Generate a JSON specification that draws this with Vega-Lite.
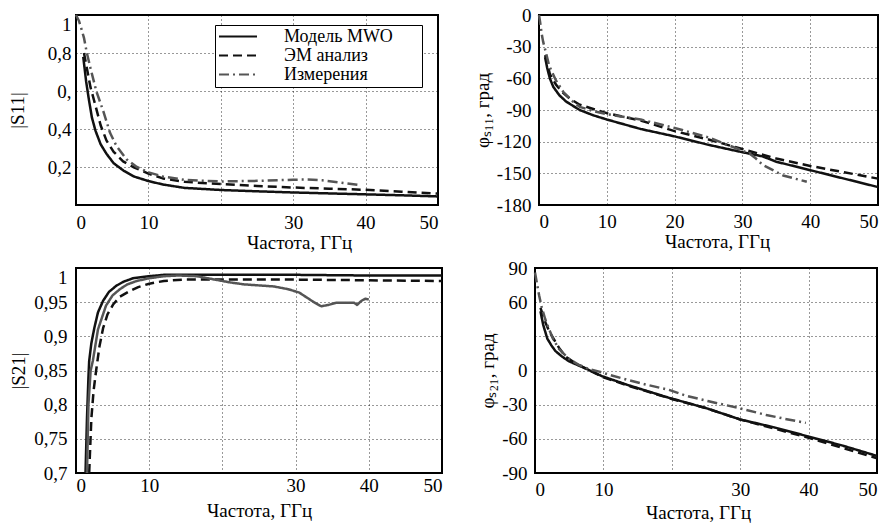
{
  "$schema": "https://vega.github.io/schema/vega-lite/v6.json",
  "padding": {"left": 7, "top": 5, "right": 5, "bottom": 5},
  "background": "#ffffff",
  "config": {
    "font": "Liberation Serif",
    "view": {"stroke": "#000000", "strokeWidth": 2},
    "style": {"guide-label": {"font": "Liberation Serif", "fontSize": 19, "fill": "#000000"}, "guide-title": {"font": "Liberation Serif", "fontSize": 19, "fontWeight": "normal", "fill": "#000000"}},
    "axis": {
      "domain": false,
      "ticks": false,
      "grid": true,
      "gridColor": "#000000",
      "gridDash": [1, 3],
      "gridWidth": 1,
      "gridOpacity": 0.8,
      "labelFont": "Liberation Serif",
      "labelFontSize": 19,
      "labelColor": "#000000",
      "titleFont": "Liberation Serif",
      "titleFontSize": 19,
      "titleFontWeight": "normal",
      "titleColor": "#000000"
    },
    "legend": {"labelFont": "Liberation Serif", "labelFontSize": 18, "labelColor": "#000000"},
    "line": {"strokeJoin": "round", "strokeCap": "butt"}
  },
  "datasets": {
    "s11mag": [
      {"f": 1.0, "v": 0.78, "series": "Модель MWO"},
      {"f": 1.4, "v": 0.65, "series": "Модель MWO"},
      {"f": 1.8, "v": 0.55, "series": "Модель MWO"},
      {"f": 2.2, "v": 0.46, "series": "Модель MWO"},
      {"f": 2.7, "v": 0.39, "series": "Модель MWO"},
      {"f": 3.4, "v": 0.32, "series": "Модель MWO"},
      {"f": 4.2, "v": 0.27, "series": "Модель MWO"},
      {"f": 5.2, "v": 0.22, "series": "Модель MWO"},
      {"f": 6.6, "v": 0.18, "series": "Модель MWO"},
      {"f": 8.0, "v": 0.15, "series": "Модель MWO"},
      {"f": 10, "v": 0.126, "series": "Модель MWO"},
      {"f": 12, "v": 0.108, "series": "Модель MWO"},
      {"f": 15, "v": 0.09, "series": "Модель MWO"},
      {"f": 20, "v": 0.079, "series": "Модель MWO"},
      {"f": 25, "v": 0.072, "series": "Модель MWO"},
      {"f": 30, "v": 0.066, "series": "Модель MWO"},
      {"f": 35, "v": 0.061, "series": "Модель MWO"},
      {"f": 40, "v": 0.056, "series": "Модель MWO"},
      {"f": 45, "v": 0.051, "series": "Модель MWO"},
      {"f": 50, "v": 0.045, "series": "Модель MWO"},
      {"f": 1.1, "v": 0.8, "series": "ЭМ анализ"},
      {"f": 1.6, "v": 0.7, "series": "ЭМ анализ"},
      {"f": 2.0, "v": 0.62, "series": "ЭМ анализ"},
      {"f": 2.5, "v": 0.55, "series": "ЭМ анализ"},
      {"f": 3.4, "v": 0.42, "series": "ЭМ анализ"},
      {"f": 4.2, "v": 0.34, "series": "ЭМ анализ"},
      {"f": 5.2, "v": 0.28, "series": "ЭМ анализ"},
      {"f": 6.5, "v": 0.23, "series": "ЭМ анализ"},
      {"f": 7.9, "v": 0.2, "series": "ЭМ анализ"},
      {"f": 10, "v": 0.165, "series": "ЭМ анализ"},
      {"f": 12, "v": 0.14, "series": "ЭМ анализ"},
      {"f": 15, "v": 0.122, "series": "ЭМ анализ"},
      {"f": 20, "v": 0.11, "series": "ЭМ анализ"},
      {"f": 25, "v": 0.1, "series": "ЭМ анализ"},
      {"f": 30, "v": 0.092, "series": "ЭМ анализ"},
      {"f": 35, "v": 0.086, "series": "ЭМ анализ"},
      {"f": 40, "v": 0.08, "series": "ЭМ анализ"},
      {"f": 45, "v": 0.07, "series": "ЭМ анализ"},
      {"f": 50, "v": 0.06, "series": "ЭМ анализ"},
      {"f": 0, "v": 1.0, "series": "Измерения"},
      {"f": 0.4, "v": 0.97, "series": "Измерения"},
      {"f": 0.8, "v": 0.92, "series": "Измерения"},
      {"f": 1.1, "v": 0.88, "series": "Измерения"},
      {"f": 1.5, "v": 0.8, "series": "Измерения"},
      {"f": 2.0, "v": 0.72, "series": "Измерения"},
      {"f": 2.8, "v": 0.6, "series": "Измерения"},
      {"f": 3.8, "v": 0.49, "series": "Измерения"},
      {"f": 4.7, "v": 0.38, "series": "Измерения"},
      {"f": 5.6, "v": 0.31, "series": "Измерения"},
      {"f": 7.0, "v": 0.24, "series": "Измерения"},
      {"f": 8.4, "v": 0.2, "series": "Измерения"},
      {"f": 10, "v": 0.172, "series": "Измерения"},
      {"f": 12, "v": 0.15, "series": "Измерения"},
      {"f": 15, "v": 0.132, "series": "Измерения"},
      {"f": 20, "v": 0.124, "series": "Измерения"},
      {"f": 25, "v": 0.127, "series": "Измерения"},
      {"f": 30, "v": 0.133, "series": "Измерения"},
      {"f": 32, "v": 0.134, "series": "Измерения"},
      {"f": 34, "v": 0.13, "series": "Измерения"},
      {"f": 37, "v": 0.116, "series": "Измерения"},
      {"f": 39, "v": 0.106, "series": "Измерения"}
    ],
    "s11ph": [
      {"f": 0.9, "v": -40, "series": "Модель MWO"},
      {"f": 1.2, "v": -50, "series": "Модель MWO"},
      {"f": 1.6, "v": -60, "series": "Модель MWO"},
      {"f": 2.1, "v": -68, "series": "Модель MWO"},
      {"f": 3.0, "v": -76, "series": "Модель MWO"},
      {"f": 4.0, "v": -82, "series": "Модель MWO"},
      {"f": 6.0, "v": -90, "series": "Модель MWO"},
      {"f": 8.0, "v": -95, "series": "Модель MWO"},
      {"f": 10, "v": -99, "series": "Модель MWO"},
      {"f": 15, "v": -108, "series": "Модель MWO"},
      {"f": 20, "v": -115, "series": "Модель MWO"},
      {"f": 25, "v": -123, "series": "Модель MWO"},
      {"f": 30, "v": -130, "series": "Модель MWO"},
      {"f": 33, "v": -134, "series": "Модель MWO"},
      {"f": 35, "v": -139, "series": "Модель MWO"},
      {"f": 40, "v": -147, "series": "Модель MWO"},
      {"f": 45, "v": -155, "series": "Модель MWO"},
      {"f": 50, "v": -163, "series": "Модель MWO"},
      {"f": 0.9, "v": -38, "series": "ЭМ анализ"},
      {"f": 1.2, "v": -45, "series": "ЭМ анализ"},
      {"f": 1.6, "v": -56, "series": "ЭМ анализ"},
      {"f": 2.5, "v": -66, "series": "ЭМ анализ"},
      {"f": 3.6, "v": -74, "series": "ЭМ анализ"},
      {"f": 4.5, "v": -79, "series": "ЭМ анализ"},
      {"f": 6.0, "v": -85, "series": "ЭМ анализ"},
      {"f": 8.0, "v": -89, "series": "ЭМ анализ"},
      {"f": 10, "v": -93, "series": "ЭМ анализ"},
      {"f": 15, "v": -100, "series": "ЭМ анализ"},
      {"f": 20, "v": -110, "series": "ЭМ анализ"},
      {"f": 25, "v": -118, "series": "ЭМ анализ"},
      {"f": 30, "v": -127, "series": "ЭМ анализ"},
      {"f": 35, "v": -136, "series": "ЭМ анализ"},
      {"f": 40, "v": -143, "series": "ЭМ анализ"},
      {"f": 45, "v": -149, "series": "ЭМ анализ"},
      {"f": 50, "v": -155, "series": "ЭМ анализ"},
      {"f": 0, "v": 0, "series": "Измерения"},
      {"f": 0.15, "v": -6, "series": "Измерения"},
      {"f": 0.4, "v": -18, "series": "Измерения"},
      {"f": 0.6, "v": -25, "series": "Измерения"},
      {"f": 1.0, "v": -35, "series": "Измерения"},
      {"f": 1.5, "v": -48, "series": "Измерения"},
      {"f": 2.5, "v": -62, "series": "Измерения"},
      {"f": 3.6, "v": -73, "series": "Измерения"},
      {"f": 5.0, "v": -82, "series": "Измерения"},
      {"f": 6.0, "v": -87, "series": "Измерения"},
      {"f": 8.0, "v": -91, "series": "Измерения"},
      {"f": 10, "v": -94, "series": "Измерения"},
      {"f": 15, "v": -99, "series": "Измерения"},
      {"f": 20, "v": -107, "series": "Измерения"},
      {"f": 25, "v": -116, "series": "Измерения"},
      {"f": 29, "v": -126, "series": "Измерения"},
      {"f": 31, "v": -131, "series": "Измерения"},
      {"f": 32, "v": -136, "series": "Измерения"},
      {"f": 33, "v": -142, "series": "Измерения"},
      {"f": 36, "v": -152, "series": "Измерения"},
      {"f": 39.5, "v": -158, "series": "Измерения"}
    ],
    "s21mag": [
      {"f": 1.3, "v": 0.7, "series": "Модель MWO"},
      {"f": 1.5, "v": 0.78, "series": "Модель MWO"},
      {"f": 1.7, "v": 0.84, "series": "Модель MWO"},
      {"f": 1.8, "v": 0.864, "series": "Модель MWO"},
      {"f": 2.1, "v": 0.89, "series": "Модель MWO"},
      {"f": 2.5, "v": 0.912, "series": "Модель MWO"},
      {"f": 3.0, "v": 0.935, "series": "Модель MWO"},
      {"f": 3.7, "v": 0.952, "series": "Модель MWO"},
      {"f": 4.5, "v": 0.965, "series": "Модель MWO"},
      {"f": 5.5, "v": 0.974, "series": "Модель MWO"},
      {"f": 6.5, "v": 0.98, "series": "Модель MWO"},
      {"f": 7.8, "v": 0.985, "series": "Модель MWO"},
      {"f": 10, "v": 0.988, "series": "Модель MWO"},
      {"f": 12, "v": 0.99, "series": "Модель MWO"},
      {"f": 20, "v": 0.99, "series": "Модель MWO"},
      {"f": 30, "v": 0.99, "series": "Модель MWO"},
      {"f": 40, "v": 0.989, "series": "Модель MWO"},
      {"f": 50, "v": 0.989, "series": "Модель MWO"},
      {"f": 1.8, "v": 0.7, "series": "ЭМ анализ"},
      {"f": 2.1, "v": 0.78, "series": "ЭМ анализ"},
      {"f": 2.4, "v": 0.82, "series": "ЭМ анализ"},
      {"f": 2.75, "v": 0.85, "series": "ЭМ анализ"},
      {"f": 3.2, "v": 0.885, "series": "ЭМ анализ"},
      {"f": 3.7, "v": 0.912, "series": "ЭМ анализ"},
      {"f": 4.3, "v": 0.932, "series": "ЭМ анализ"},
      {"f": 5.1, "v": 0.947, "series": "ЭМ анализ"},
      {"f": 6.0, "v": 0.958, "series": "ЭМ анализ"},
      {"f": 7.3, "v": 0.966, "series": "ЭМ анализ"},
      {"f": 8.5, "v": 0.972, "series": "ЭМ анализ"},
      {"f": 10, "v": 0.977, "series": "ЭМ анализ"},
      {"f": 12, "v": 0.981, "series": "ЭМ анализ"},
      {"f": 14.7, "v": 0.983, "series": "ЭМ анализ"},
      {"f": 20, "v": 0.983, "series": "ЭМ анализ"},
      {"f": 30, "v": 0.983, "series": "ЭМ анализ"},
      {"f": 40, "v": 0.982, "series": "ЭМ анализ"},
      {"f": 50, "v": 0.981, "series": "ЭМ анализ"},
      {"f": 1.5, "v": 0.7, "series": "Измерения"},
      {"f": 1.7, "v": 0.8, "series": "Измерения"},
      {"f": 2.0, "v": 0.85, "series": "Измерения"},
      {"f": 2.3, "v": 0.864, "series": "Измерения"},
      {"f": 3.0, "v": 0.91, "series": "Измерения"},
      {"f": 4.1, "v": 0.945, "series": "Измерения"},
      {"f": 5.0, "v": 0.96, "series": "Измерения"},
      {"f": 6.0, "v": 0.969, "series": "Измерения"},
      {"f": 7.0, "v": 0.976, "series": "Измерения"},
      {"f": 8.3, "v": 0.981, "series": "Измерения"},
      {"f": 10, "v": 0.985, "series": "Измерения"},
      {"f": 12, "v": 0.988, "series": "Измерения"},
      {"f": 14, "v": 0.989, "series": "Измерения"},
      {"f": 16.5, "v": 0.988, "series": "Измерения"},
      {"f": 18, "v": 0.985, "series": "Измерения"},
      {"f": 21, "v": 0.979, "series": "Измерения"},
      {"f": 23, "v": 0.976, "series": "Измерения"},
      {"f": 25.7, "v": 0.974, "series": "Измерения"},
      {"f": 27, "v": 0.973, "series": "Измерения"},
      {"f": 29, "v": 0.969, "series": "Измерения"},
      {"f": 30.5, "v": 0.964, "series": "Измерения"},
      {"f": 31.5, "v": 0.957, "series": "Измерения"},
      {"f": 32.5, "v": 0.95, "series": "Измерения"},
      {"f": 33.5, "v": 0.944, "series": "Измерения"},
      {"f": 34.5, "v": 0.946, "series": "Измерения"},
      {"f": 35.5, "v": 0.949, "series": "Измерения"},
      {"f": 37, "v": 0.949, "series": "Измерения"},
      {"f": 38, "v": 0.949, "series": "Измерения"},
      {"f": 38.4, "v": 0.946, "series": "Измерения"},
      {"f": 39, "v": 0.952, "series": "Измерения"},
      {"f": 39.5, "v": 0.955, "series": "Измерения"},
      {"f": 40, "v": 0.954, "series": "Измерения"}
    ],
    "s21ph": [
      {"f": 0.8, "v": 52, "series": "Модель MWO"},
      {"f": 1.2, "v": 40, "series": "Модель MWO"},
      {"f": 1.8, "v": 28, "series": "Модель MWO"},
      {"f": 2.4, "v": 22, "series": "Модель MWO"},
      {"f": 3.0, "v": 17, "series": "Модель MWO"},
      {"f": 4.0, "v": 12, "series": "Модель MWO"},
      {"f": 5.0, "v": 8, "series": "Модель MWO"},
      {"f": 7.5, "v": 1.5, "series": "Модель MWO"},
      {"f": 9.8, "v": -5, "series": "Модель MWO"},
      {"f": 13.7, "v": -13, "series": "Модель MWO"},
      {"f": 19.6, "v": -24, "series": "Модель MWO"},
      {"f": 25, "v": -33, "series": "Модель MWO"},
      {"f": 30, "v": -43, "series": "Модель MWO"},
      {"f": 35, "v": -50, "series": "Модель MWO"},
      {"f": 40, "v": -58, "series": "Модель MWO"},
      {"f": 45, "v": -66, "series": "Модель MWO"},
      {"f": 50, "v": -75, "series": "Модель MWO"},
      {"f": 0.8, "v": 55, "series": "ЭМ анализ"},
      {"f": 1.2, "v": 48, "series": "ЭМ анализ"},
      {"f": 1.6, "v": 41, "series": "ЭМ анализ"},
      {"f": 2.2, "v": 33, "series": "ЭМ анализ"},
      {"f": 2.8, "v": 27, "series": "ЭМ анализ"},
      {"f": 3.5, "v": 20, "series": "ЭМ анализ"},
      {"f": 4.5, "v": 12, "series": "ЭМ анализ"},
      {"f": 6.0, "v": 6, "series": "ЭМ анализ"},
      {"f": 8.0, "v": 0, "series": "ЭМ анализ"},
      {"f": 10, "v": -6, "series": "ЭМ анализ"},
      {"f": 14, "v": -14, "series": "ЭМ анализ"},
      {"f": 20, "v": -25, "series": "ЭМ анализ"},
      {"f": 25, "v": -33, "series": "ЭМ анализ"},
      {"f": 30, "v": -43, "series": "ЭМ анализ"},
      {"f": 35, "v": -51, "series": "ЭМ анализ"},
      {"f": 40, "v": -59, "series": "ЭМ анализ"},
      {"f": 45, "v": -68, "series": "ЭМ анализ"},
      {"f": 50, "v": -77, "series": "ЭМ анализ"},
      {"f": 0, "v": 86, "series": "Измерения"},
      {"f": 0.3, "v": 76, "series": "Измерения"},
      {"f": 0.6, "v": 66, "series": "Измерения"},
      {"f": 1.0, "v": 55, "series": "Измерения"},
      {"f": 1.5, "v": 45, "series": "Измерения"},
      {"f": 2.0, "v": 37, "series": "Измерения"},
      {"f": 2.7, "v": 27, "series": "Измерения"},
      {"f": 3.5, "v": 19, "series": "Измерения"},
      {"f": 5.0, "v": 10, "series": "Измерения"},
      {"f": 6.4, "v": 5, "series": "Измерения"},
      {"f": 8.0, "v": 1, "series": "Измерения"},
      {"f": 9.4, "v": -1, "series": "Измерения"},
      {"f": 11, "v": -4, "series": "Измерения"},
      {"f": 13.7, "v": -8.5, "series": "Измерения"},
      {"f": 16, "v": -12, "series": "Измерения"},
      {"f": 19.6, "v": -17, "series": "Измерения"},
      {"f": 22, "v": -22, "series": "Измерения"},
      {"f": 25.4, "v": -27, "series": "Измерения"},
      {"f": 29.8, "v": -33, "series": "Измерения"},
      {"f": 33.8, "v": -39, "series": "Измерения"},
      {"f": 37, "v": -43, "series": "Измерения"},
      {"f": 39.6, "v": -46, "series": "Измерения"}
    ]
  },
  "spacing": 5,
  "resolve": {"scale": {"color": "independent", "strokeDash": "independent"}, "legend": {"color": "independent", "strokeDash": "independent"}},
  "vconcat": [
    {
      "hconcat": [
        {
          "width": 362,
          "height": 190,
          "data": {"name": "s11mag"},
          "mark": {"type": "line", "strokeWidth": 2.5},
          "encoding": {
            "x": {"field": "f", "type": "quantitative", "scale": {"domain": [0, 50], "nice": false},
                  "axis": {"values": [0, 10, 20, 30, 40, 50], "labelExpr": "datum.value == 20 ? '' : datum.label", "labelFlush": true, "labelPadding": 8, "titlePadding": 1, "title": "Частота, ГГц", "titleX": 223}},
            "y": {"field": "v", "type": "quantitative", "scale": {"domain": [0, 1], "nice": false},
                  "axis": {"values": [0.2, 0.4, 0.6, 0.8, 1], "labelExpr": "datum.value == 0.6 ? '0,' : replace(format(datum.value, '~g'), '.', ',')", "labelFlush": true, "labelPadding": 5, "titlePadding": 20, "title": "|S11|"}},
            "color": {"field": "series", "type": "nominal",
                      "scale": {"domain": ["Модель MWO", "ЭМ анализ", "Измерения"], "range": ["#111111", "#111111", "#555555"]},
                      "legend": {"orient": "none", "legendX": 139, "legendY": 10, "title": null, "symbolType": "stroke", "symbolSize": 1444, "symbolStrokeWidth": 2, "clipHeight": 17, "labelOffset": 26, "labelExpr": "datum.label + '⠀⠀'", "padding": 3, "rowPadding": 0, "strokeColor": "#000000", "fillColor": "#ffffff", "labelLimit": 300}},
            "strokeDash": {"field": "series", "type": "nominal",
                           "scale": {"domain": ["Модель MWO", "ЭМ анализ", "Измерения"], "range": [[1, 0], [9, 5], [10, 4, 2, 4]]},
                           "legend": {"orient": "none", "legendX": 139, "legendY": 10, "title": null, "symbolType": "stroke", "symbolSize": 1444, "symbolStrokeWidth": 2, "clipHeight": 17, "labelOffset": 26, "labelExpr": "datum.label + '⠀⠀'", "padding": 3, "rowPadding": 0, "strokeColor": "#000000", "fillColor": "#ffffff", "labelLimit": 300}}
          }
        },
        {
          "width": 339,
          "height": 190,
          "data": {"name": "s11ph"},
          "mark": {"type": "line", "strokeWidth": 2.5},
          "encoding": {
            "x": {"field": "f", "type": "quantitative", "scale": {"domain": [0, 50], "nice": false},
                  "axis": {"values": [0, 10, 20, 30, 40, 50], "labelPadding": 7, "titlePadding": 1, "title": "Частота, ГГц", "titleX": 178}},
            "y": {"field": "v", "type": "quantitative", "scale": {"domain": [-180, 0], "nice": false},
                  "axis": {"values": [-180, -150, -120, -90, -60, -30, 0], "labelExpr": "datum.value < 0 ? '-' + abs(datum.value) : datum.label", "labelPadding": 8, "title": "φₛ₁₁, град"}},
            "color": {"field": "series", "type": "nominal",
                      "scale": {"domain": ["Модель MWO", "ЭМ анализ", "Измерения"], "range": ["#111111", "#111111", "#555555"]}, "legend": null},
            "strokeDash": {"field": "series", "type": "nominal",
                           "scale": {"domain": ["Модель MWO", "ЭМ анализ", "Измерения"], "range": [[1, 0], [9, 5], [10, 4, 2, 4]]}, "legend": null}
          }
        }
      ],
      "spacing": 101,
      "bounds": "flush",
      "resolve": {"scale": {"color": "independent", "strokeDash": "independent"}, "legend": {"color": "independent", "strokeDash": "independent"}}
    },
    {
      "hconcat": [
        {
          "width": 366,
          "height": 205,
          "data": {"name": "s21mag"},
          "mark": {"type": "line", "strokeWidth": 2.5, "clip": true},
          "encoding": {
            "x": {"field": "f", "type": "quantitative", "scale": {"domain": [0, 50], "nice": false},
                  "axis": {"values": [0, 10, 20, 30, 40, 50], "labelExpr": "datum.value == 20 ? '' : datum.label", "labelPadding": 3, "titlePadding": 6, "title": "Частота, ГГц"}},
            "y": {"field": "v", "type": "quantitative", "scale": {"domain": [0.7, 1], "nice": false},
                  "axis": {"values": [0.7, 0.75, 0.8, 0.85, 0.9, 0.95, 1], "labelExpr": "replace(format(datum.value, '~g'), '.', ',')", "labelBaseline": {"condition": {"test": "datum.value == 1", "value": "top"}, "value": "middle"}, "labelPadding": 9, "titlePadding": 5, "title": "|S21|"}},
            "color": {"field": "series", "type": "nominal",
                      "scale": {"domain": ["Модель MWO", "ЭМ анализ", "Измерения"], "range": ["#111111", "#111111", "#555555"]}, "legend": null},
            "strokeDash": {"field": "series", "type": "nominal",
                           "scale": {"domain": ["Модель MWO", "ЭМ анализ", "Измерения"], "range": [[1, 0], [9, 5], [1, 0]]}, "legend": null}
          }
        },
        {
          "width": 342,
          "height": 205,
          "data": {"name": "s21ph"},
          "mark": {"type": "line", "strokeWidth": 2.5},
          "encoding": {
            "x": {"field": "f", "type": "quantitative", "scale": {"domain": [0, 50], "nice": false},
                  "axis": {"values": [0, 10, 20, 30, 40, 50], "labelExpr": "datum.value == 20 ? '' : datum.label", "labelPadding": 7, "titlePadding": 4, "title": "Частота, ГГц", "titleX": 163}},
            "y": {"field": "v", "type": "quantitative", "scale": {"domain": [-90, 90], "nice": false},
                  "axis": {"values": [-90, -60, -30, 0, 30, 60, 90], "labelExpr": "datum.value == 30 ? '' : datum.value < 0 ? '-' + abs(datum.value) : datum.label", "labelPadding": 8, "title": "φₛ₂₁, град"}},
            "color": {"field": "series", "type": "nominal",
                      "scale": {"domain": ["Модель MWO", "ЭМ анализ", "Измерения"], "range": ["#111111", "#111111", "#555555"]}, "legend": null},
            "strokeDash": {"field": "series", "type": "nominal",
                           "scale": {"domain": ["Модель MWO", "ЭМ анализ", "Измерения"], "range": [[1, 0], [9, 5], [10, 4, 2, 4]]}, "legend": null}
          }
        }
      ],
      "spacing": 93,
      "bounds": "flush",
      "resolve": {"scale": {"color": "independent", "strokeDash": "independent"}, "legend": {"color": "independent", "strokeDash": "independent"}}
    }
  ]
}
